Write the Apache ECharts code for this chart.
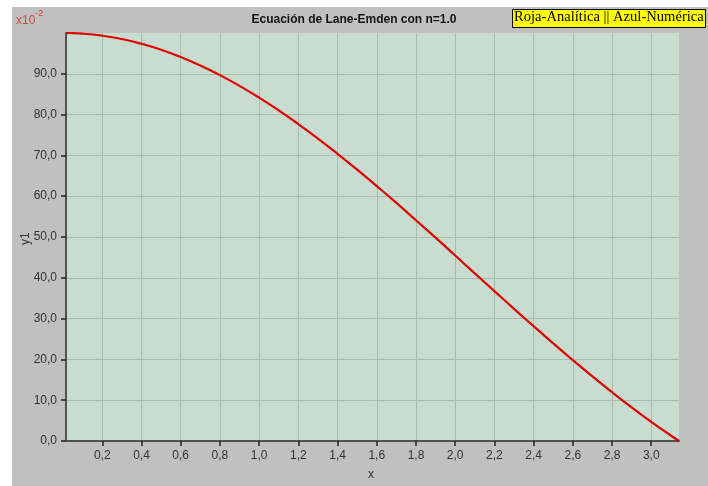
<!DOCTYPE html>
<html>
<head>
<meta charset="utf-8">
<script src="https://cdn.jsdelivr.net/npm/echarts@6/dist/echarts.min.js"></script>
<style>
html,body{margin:0;padding:0;background:#ffffff;}
#chart{width:708px;height:486px;}
</style>
</head>
<body>
<div id="chart"></div>
<script>
// Data (y in units of 1e-2)
const xValues = [0.015, 0.1, 0.2, 0.3, 0.4, 0.5, 0.6, 0.7, 0.8, 0.9, 1.0, 1.1, 1.2, 1.3, 1.4, 1.5, 1.6, 1.7, 1.8, 1.9, 2.0, 2.1, 2.2, 2.3, 2.4, 2.5, 2.6, 2.7, 2.8, 2.9, 3.0, 3.1, 3.1416];
const yValues = [99.99, 99.83, 99.33, 98.51, 97.36, 95.89, 94.11, 92.03, 89.67, 87.04, 84.15, 81.02, 77.67, 74.12, 70.39, 66.50, 62.47, 58.35, 54.10, 49.84, 45.46, 41.08, 36.73, 32.39, 28.14, 23.94, 19.83, 15.82, 11.98, 8.25, 4.70, 1.35, 0.0];
const xTicks = [0.2, 0.4, 0.6, 0.8, 1.0, 1.2, 1.4, 1.6, 1.8, 2.0, 2.2, 2.4, 2.6, 2.8, 3.0];
const yTicks = [0, 10, 20, 30, 40, 50, 60, 70, 80, 90];
const titleText = 'Ecuación de Lane-Emden con n=1.0';
const legendText = 'Roja-Analítica || Azul-Numérica';

const seriesData = xValues.map((x, i) => [x, yValues[i]]);
const fmt = v => v.toFixed(1).replace('.', ',');

const chart = echarts.init(document.getElementById('chart'), null, {renderer: 'canvas'});
chart.setOption({
  animation: false,
  backgroundColor: '#ffffff',
  graphic: [
    {type: 'rect', z: -10, silent: true, shape: {x: 12, y: 7, width: 696, height: 479}, style: {fill: '#c0c0c0'}},
    {type: 'text', left: 'center', top: 14, style: {text: titleText, font: 'bold 12px "Liberation Sans", Arial, sans-serif', fill: '#111', x: 0}},
    {type: 'group', left: 512, top: 9, children: [
      {type: 'rect', shape: {x: 0, y: 0, width: 193, height: 18}, style: {fill: '#ffff00', stroke: '#000', lineWidth: 1}},
      {type: 'text', x: 1.5, y: 0.5, style: {text: legendText, font: '14.6px "Liberation Serif", "Times New Roman", serif', fill: '#000'}}
    ]},
    {type: 'text', left: 16, top: 9, style: {
      text: '{a|x10}{b|-2}',
      rich: {
        a: {fontSize: 12, fontFamily: '"Liberation Sans", Arial, sans-serif', fill: '#d04848', color: '#d04848', verticalAlign: 'bottom', padding: [6, 0, 0, 0]},
        b: {fontSize: 9, fontFamily: '"Liberation Sans", Arial, sans-serif', fill: '#d04848', color: '#d04848', verticalAlign: 'top', padding: [0, 0, 6, 0]}
      }
    }},
    {type: 'text', x: 20, y: 245, rotation: Math.PI / 2, style: {text: 'y1', font: '12px "Liberation Sans", Arial, sans-serif', fill: '#333'}},
    {type: 'text', x: 368, y: 469, style: {text: 'x', font: '12px "Liberation Sans", Arial, sans-serif', fill: '#333'}}
  ],
  grid: {left: 66, top: 33, right: 29, bottom: 45, show: true, backgroundColor: '#c8dccf', borderWidth: 0},
  xAxis: {
    type: 'value',
    min: 0.015,
    max: 3.1416,
    axisLine: {show: true, onZero: false, lineStyle: {color: '#505050', width: 2}},
    axisTick: {show: true, length: 5, inside: false, customValues: xTicks, lineStyle: {color: '#222', width: 1.5}},
    axisLabel: {customValues: xTicks, margin: 9, color: '#333', fontSize: 12, fontFamily: '"Liberation Sans", Arial, sans-serif', formatter: fmt},
    splitLine: {show: true, lineStyle: {color: '#a8bdae', width: 1}}
  },
  yAxis: {
    type: 'value',
    min: 0,
    max: 99.99,
    axisLine: {show: true, lineStyle: {color: '#505050', width: 2}},
    axisTick: {show: true, length: 5, inside: false, customValues: yTicks, lineStyle: {color: '#222', width: 1.5}},
    axisLabel: {customValues: yTicks, margin: 9, color: '#333', fontSize: 12, fontFamily: '"Liberation Sans", Arial, sans-serif', formatter: fmt},
    splitLine: {show: true, lineStyle: {color: '#a8bdae', width: 1}}
  },
  series: [{
    type: 'line',
    data: seriesData,
    smooth: true,
    showSymbol: false,
    symbol: 'none',
    lineStyle: {color: '#e00000', width: 2.2},
    z: 5
  }]
});
</script>
</body>
</html>
